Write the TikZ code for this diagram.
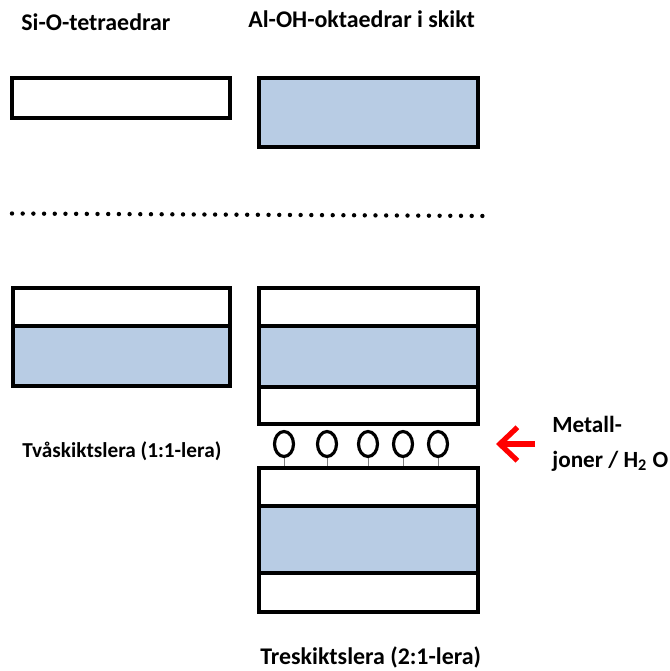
\documentclass[tikz,border=0pt]{standalone}
\usepackage{fontspec}
\setmainfont{Carlito}
\usepackage{xcolor}
\usepackage{tikz}
\usetikzlibrary{arrows.meta}

\definecolor{oktablue}{RGB}{184,204,228}
\definecolor{ionred}{RGB}{255,0,0}

\tikzset{
    sheet/.style={draw=black,line width=2.2pt},
    tetra/.style={sheet,fill=white},
    okta/.style={sheet,fill=oktablue},
    ion/.style={draw=black,line width=1.8pt,fill=white},
    lbl/.style={font=\bfseries,inner sep=0pt,anchor=base west}
}

\begin{document}
\begin{tikzpicture}[x=1cm,y=1cm]
    \useasboundingbox (0,0) rectangle (13.4,-13.42);

    % Headings
    \node[lbl,font=\bfseries\fontsize{13.6}{16}\selectfont] (silabel) at (0.42,-0.61) {Si-O-tetraedrar};
    \node[lbl,font=\bfseries\fontsize{13.6}{16}\selectfont] (allabel) at (4.96,-0.55) {Al-OH-oktaedrar i skikt};

    % Single sheets
    \draw[tetra] (0.24,-1.56) rectangle (4.60,-2.36); % tetrahedral sheet
    \draw[okta] (5.18,-1.56) rectangle (9.56,-2.94); % octahedral sheet

    % Separator
    \draw[line width=2.5pt,line cap=round,dash pattern=on 0pt off 0.2138cm] (0.24,-4.27) -- (9.86,-4.32);

    % 1:1 clay
    \draw[tetra] (0.26,-5.76) rectangle (4.60,-6.52);
    \draw[okta] (0.26,-6.52) rectangle (4.60,-7.72);
    \node[lbl,font=\bfseries\fontsize{12.1}{14}\selectfont] (tvalabel) at (0.44,-9.14) {Tvåskiktslera (1:1-lera)};

    % 2:1 clay, upper layer
    \draw[tetra] (5.18,-5.76) rectangle (9.56,-6.52);
    \draw[okta] (5.18,-6.52) rectangle (9.56,-7.74);
    \draw[tetra] (5.18,-7.74) rectangle (9.56,-8.48);

    % Interlayer ions
    \foreach \x in {5.68,6.54,7.36,8.06,8.76} {
        \draw[gray,line width=0.4pt] (\x,-9.12) -- (\x,-9.36);
        \draw[ion] (\x,-8.88) ellipse (0.19 and 0.25);
    }

    % 2:1 clay, lower layer
    \draw[tetra] (5.18,-9.36) rectangle (9.56,-10.12);
    \draw[okta] (5.18,-10.12) rectangle (9.56,-11.46);
    \draw[tetra] (5.18,-11.46) rectangle (9.56,-12.24);
    \node[lbl,font=\bfseries\fontsize{13.6}{16}\selectfont] (trelabel) at (5.20,-13.28) {Treskiktslera (2:1-lera)};

    % Ions / water going in
    \node[lbl,font=\bfseries\fontsize{13.2}{16}\selectfont] (metlabel) at (11.04,-8.64) {Metall-};
    \node[lbl,font=\bfseries\fontsize{13.2}{16}\selectfont] (jonlabel) at (11.04,-9.34) {joner / H\textsubscript{2} O};
    \coordinate (arrowtail) at (10.70,-8.88);
    \coordinate (arrowtip) at (9.92,-8.88);
    \draw[ionred,line width=3pt,-{Straight Barb[length=10pt,width=19pt]}] (arrowtail) -- (arrowtip);
\end{tikzpicture}
\end{document}
